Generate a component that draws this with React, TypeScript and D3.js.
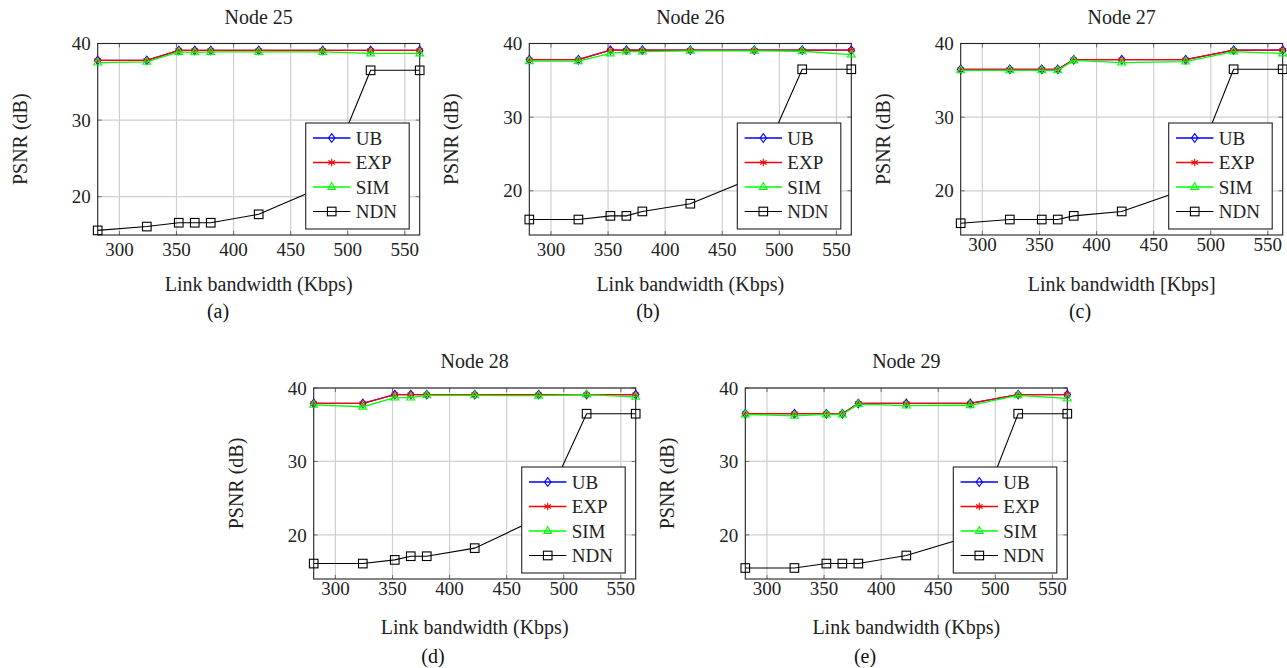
import React, { useEffect, useRef } from 'react';
import * as d3 from 'd3';

// Link bandwidth (Kbps) shared by every panel
const bandwidth = [281, 324, 352, 366, 380, 422, 478, 520, 563];
const xTicks = [300, 350, 400, 450, 500, 550];
const yTicks = [20, 30, 40];
const seriesNames = ['UB', 'EXP', 'SIM', 'NDN'];
const seriesColors = ['#0000ff', '#ff0000', '#00ff00', '#000000'];
const seriesMarks = ['diamond', 'asterisk', 'triangle', 'square'];

// PSNR (dB) per node
const node25UB = [37.8, 37.8, 39.1, 39.1, 39.1, 39.1, 39.1, 39.1, 39.1];
const node25EXP = [37.8, 37.8, 39.1, 39.1, 39.1, 39.1, 39.1, 39.1, 39.1];
const node25SIM = [37.5, 37.6, 38.9, 38.85, 38.9, 38.9, 38.9, 38.7, 38.7];
const node25NDN = [15.6, 16.1, 16.6, 16.6, 16.6, 17.7, 21.3, 36.5, 36.5];

const node26UB = [37.8, 37.8, 39.1, 39.1, 39.1, 39.1, 39.1, 39.1, 39.1];
const node26EXP = [37.8, 37.8, 39.1, 39.1, 39.1, 39.1, 39.1, 39.1, 39.1];
const node26SIM = [37.6, 37.6, 38.65, 38.9, 38.9, 39.0, 39.0, 38.95, 38.5];
const node26NDN = [16.1, 16.1, 16.6, 16.6, 17.2, 18.25, 21.8, 36.5, 36.5];

const node27UB = [36.5, 36.5, 36.5, 36.5, 37.8, 37.8, 37.8, 39.1, 39.1];
const node27EXP = [36.5, 36.5, 36.5, 36.5, 37.8, 37.8, 37.8, 39.1, 39.1];
const node27SIM = [36.35, 36.35, 36.35, 36.35, 37.7, 37.4, 37.55, 38.9, 38.65];
const node27NDN = [15.6, 16.1, 16.1, 16.1, 16.6, 17.2, 20.2, 36.5, 36.5];

const node28UB = [37.9, 37.9, 39.1, 39.1, 39.1, 39.1, 39.1, 39.1, 39.1];
const node28EXP = [37.9, 37.9, 39.1, 39.1, 39.1, 39.1, 39.1, 39.1, 39.1];
const node28SIM = [37.7, 37.45, 38.7, 38.7, 39.0, 39.0, 38.95, 39.1, 38.8];
const node28NDN = [16.1, 16.1, 16.6, 17.1, 17.1, 18.2, 22.3, 36.5, 36.5];

const node29UB = [36.5, 36.5, 36.5, 36.5, 37.9, 37.9, 37.9, 39.1, 39.1];
const node29EXP = [36.5, 36.5, 36.5, 36.5, 37.9, 37.9, 37.9, 39.1, 39.1];
const node29SIM = [36.4, 36.2, 36.4, 36.4, 37.8, 37.6, 37.65, 39.0, 38.6];
const node29NDN = [15.5, 15.5, 16.1, 16.1, 16.1, 17.2, 19.8, 36.5, 36.5];

const FONT = '"Liberation Serif", "Times New Roman", serif';

const panels = [
  { title: 'Node 25', tag: '(a)', xLabel: 'Link bandwidth (Kbps)', left: 97.7, row: 0, yMin: 15, tickGap: 21, tagX: 218, series: [node25UB, node25EXP, node25SIM, node25NDN] },
  { title: 'Node 26', tag: '(b)', xLabel: 'Link bandwidth (Kbps)', left: 529.3, row: 0, yMin: 14, tickGap: 21, tagX: 648, series: [node26UB, node26EXP, node26SIM, node26NDN] },
  { title: 'Node 27', tag: '(c)', xLabel: 'Link bandwidth [Kbps]', left: 960.7, row: 0, yMin: 14, tickGap: 16, tagX: 1080, series: [node27UB, node27EXP, node27SIM, node27NDN] },
  { title: 'Node 28', tag: '(d)', xLabel: 'Link bandwidth (Kbps)', left: 313.7, row: 1, yMin: 14, tickGap: 16, tagX: 433, series: [node28UB, node28EXP, node28SIM, node28NDN] },
  { title: 'Node 29', tag: '(e)', xLabel: 'Link bandwidth (Kbps)', left: 745.3, row: 1, yMin: 14, tickGap: 16, tagX: 865, series: [node29UB, node29EXP, node29SIM, node29NDN] },
];

const rows = [
  { top: 43.5, bottom: 235, titleY: 23.5, xLabelY: 291, tagY: 318 },
  { top: 388, bottom: 579, titleY: 368, xLabelY: 634, tagY: 663 },
];

const plotWidth = 322;

// draw a pgfplots-like mark
const drawMark = (g, type, x, y, color) => {
  if (type === 'diamond') {
    g.append('path')
      .attr('d', `M${x},${y - 4.3}L${x + 3.2},${y}L${x},${y + 4.3}L${x - 3.2},${y}Z`)
      .attr('fill', 'none')
      .attr('stroke', color)
      .attr('stroke-width', 1.1);
  } else if (type === 'asterisk') {
    const r = 3.8;
    [90, 30, 150].forEach((a) => {
      const dx = r * Math.cos((a * Math.PI) / 180);
      const dy = r * Math.sin((a * Math.PI) / 180);
      g.append('line')
        .attr('x1', x - dx)
        .attr('y1', y - dy)
        .attr('x2', x + dx)
        .attr('y2', y + dy)
        .attr('stroke', color)
        .attr('stroke-width', 1.1);
    });
  } else if (type === 'triangle') {
    g.append('path')
      .attr('d', `M${x},${y - 4.3}L${x + 3.9},${y + 2.4}L${x - 3.9},${y + 2.4}Z`)
      .attr('fill', 'none')
      .attr('stroke', color)
      .attr('stroke-width', 1.1);
  } else {
    g.append('rect')
      .attr('x', x - 4.3)
      .attr('y', y - 4.3)
      .attr('width', 8.6)
      .attr('height', 8.6)
      .attr('fill', 'none')
      .attr('stroke', color)
      .attr('stroke-width', 1.1);
  }
};

const App = () => {
  const svgRef = useRef(null);

  useEffect(() => {
    const svg = d3.select(svgRef.current);
    svg.selectAll('*').remove();

    panels.forEach((p) => {
      const r = rows[p.row];
      const x = d3.scaleLinear().domain([281, 563]).range([p.left, p.left + plotWidth]);
      const y = d3.scaleLinear().domain([p.yMin, 40]).range([r.bottom, r.top]);
      const g = svg.append('g');

      // grid
      g.selectAll('.gx')
        .data(xTicks)
        .enter()
        .append('line')
        .attr('x1', (d) => x(d))
        .attr('x2', (d) => x(d))
        .attr('y1', r.top)
        .attr('y2', r.bottom)
        .attr('stroke', '#cfcfcf')
        .attr('stroke-width', 1.2);
      g.selectAll('.gy')
        .data(yTicks)
        .enter()
        .append('line')
        .attr('x1', p.left)
        .attr('x2', p.left + plotWidth)
        .attr('y1', (d) => y(d))
        .attr('y2', (d) => y(d))
        .attr('stroke', '#cfcfcf')
        .attr('stroke-width', 1.2);

      // inner tick marks on all four sides
      xTicks.forEach((t) => {
        g.append('line').attr('x1', x(t)).attr('x2', x(t)).attr('y1', r.bottom).attr('y2', r.bottom - 4).attr('stroke', '#555').attr('stroke-width', 0.8);
        g.append('line').attr('x1', x(t)).attr('x2', x(t)).attr('y1', r.top).attr('y2', r.top + 4).attr('stroke', '#555').attr('stroke-width', 0.8);
      });
      yTicks.forEach((t) => {
        g.append('line').attr('x1', p.left).attr('x2', p.left + 4).attr('y1', y(t)).attr('y2', y(t)).attr('stroke', '#555').attr('stroke-width', 0.8);
        g.append('line').attr('x1', p.left + plotWidth).attr('x2', p.left + plotWidth - 4).attr('y1', y(t)).attr('y2', y(t)).attr('stroke', '#555').attr('stroke-width', 0.8);
      });

      // axis box
      g.append('rect')
        .attr('x', p.left)
        .attr('y', r.top)
        .attr('width', plotWidth)
        .attr('height', r.bottom - r.top)
        .attr('fill', 'none')
        .attr('stroke', '#222')
        .attr('stroke-width', 1.1);

      // tick labels
      g.selectAll('.xl')
        .data(xTicks)
        .enter()
        .append('text')
        .attr('x', (d) => x(d))
        .attr('y', r.bottom + p.tickGap)
        .attr('text-anchor', 'middle')
        .style('font-family', FONT)
        .style('font-size', '19px')
        .style('fill', '#222')
        .text((d) => d);
      g.selectAll('.yl')
        .data(yTicks)
        .enter()
        .append('text')
        .attr('x', p.left - 7)
        .attr('y', (d) => y(d))
        .attr('dy', '0.35em')
        .attr('text-anchor', 'end')
        .style('font-family', FONT)
        .style('font-size', '19px')
        .style('fill', '#222')
        .text((d) => d);

      // title and axis labels
      const cx = p.left + plotWidth / 2;
      g.append('text')
        .attr('x', cx)
        .attr('y', r.titleY)
        .attr('text-anchor', 'middle')
        .style('font-family', FONT)
        .style('font-size', '20px')
        .style('fill', '#222')
        .text(p.title);
      g.append('text')
        .attr('x', cx)
        .attr('y', r.xLabelY)
        .attr('text-anchor', 'middle')
        .style('font-family', FONT)
        .style('font-size', '20px')
        .style('fill', '#222')
        .text(p.xLabel);
      g.append('text')
        .attr('transform', `translate(${p.left - 78}, ${(r.top + r.bottom) / 2}) rotate(-90)`)
        .attr('dy', '0.35em')
        .attr('text-anchor', 'middle')
        .style('font-family', FONT)
        .style('font-size', '20px')
        .style('fill', '#222')
        .text('PSNR (dB)');
      g.append('text')
        .attr('x', p.tagX)
        .attr('y', r.tagY)
        .attr('text-anchor', 'middle')
        .style('font-family', FONT)
        .style('font-size', '20px')
        .style('fill', '#111')
        .text(p.tag);

      // series lines and marks
      p.series.forEach((vals, i) => {
        const line = d3
          .line()
          .x((d, j) => x(bandwidth[j]))
          .y((d) => y(d));
        g.append('path')
          .datum(vals)
          .attr('d', line)
          .attr('fill', 'none')
          .attr('stroke', seriesColors[i])
          .attr('stroke-width', i === 3 ? 1.1 : 1.3);
        vals.forEach((v, j) => drawMark(g, seriesMarks[i], x(bandwidth[j]), y(v), seriesColors[i]));
      });

      // legend (south east)
      const lw = 103.5;
      const lh = 106;
      const lx = p.left + plotWidth - 10.5 - lw;
      const ly = r.bottom - 6 - lh;
      const legend = g.append('g').attr('transform', `translate(${lx}, ${ly})`);
      legend
        .append('rect')
        .attr('width', lw)
        .attr('height', lh)
        .attr('fill', '#fff')
        .attr('stroke', '#222')
        .attr('stroke-width', 1.1);
      seriesNames.forEach((name, i) => {
        const ry = 15 + i * 24.5;
        legend
          .append('line')
          .attr('x1', 7.3)
          .attr('x2', 44.7)
          .attr('y1', ry)
          .attr('y2', ry)
          .attr('stroke', seriesColors[i])
          .attr('stroke-width', i === 3 ? 1.1 : 1.3);
        drawMark(legend, seriesMarks[i], 26, ry, seriesColors[i]);
        legend
          .append('text')
          .attr('x', 50)
          .attr('y', ry)
          .attr('dy', '0.35em')
          .style('font-family', FONT)
          .style('font-size', '19px')
          .style('fill', '#222')
          .text(name);
      });
    });
  }, []);

  return (
    <svg
      ref={svgRef}
      width={1287}
      height={668}
      style={{ position: 'absolute', left: 0, top: 0, background: '#fff' }}
    />
  );
};

export default App;
